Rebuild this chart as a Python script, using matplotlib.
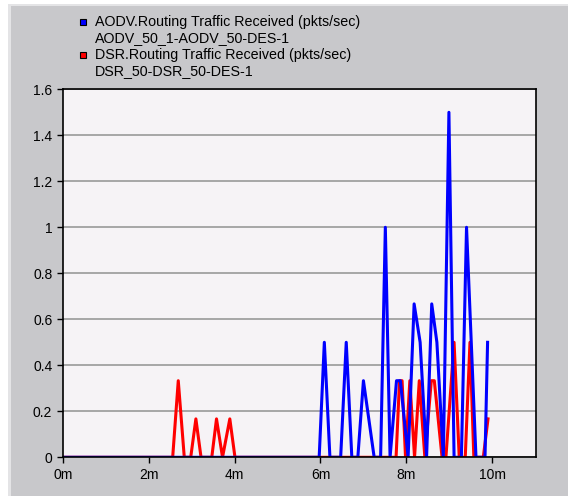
import matplotlib
matplotlib.use('Agg')
import matplotlib.pyplot as plt
from matplotlib.patches import Rectangle

plt.rcParams['font.family'] = ['Liberation Sans', 'DejaVu Sans']

# AODV routing traffic received (time in minutes, pkts/sec)
aodv_t = [0, 5.97, 6.09, 6.22, 6.47, 6.60, 6.73, 6.87, 7.00, 7.25, 7.40, 7.51,
          7.62, 7.77, 7.86, 8.04, 8.18, 8.32, 8.47, 8.59, 8.71, 8.86, 8.99,
          9.11, 9.28, 9.40, 9.62, 9.83, 9.89]
aodv_v = [0, 0, 0.5, 0, 0, 0.5, 0, 0, 0.333, 0, 0, 1.0,
          0, 0.333, 0.333, 0, 0.667, 0.5, 0, 0.667, 0.5, 0, 1.5,
          0, 0, 1.0, 0, 0, 0.5]

# DSR routing traffic received
dsr_t = [0, 2.56, 2.69, 2.83, 2.98, 3.10, 3.22, 3.47, 3.58, 3.72, 3.89, 4.01,
         7.76, 7.84, 7.90, 7.98, 8.08, 8.19, 8.30, 8.43, 8.58, 8.65, 8.83,
         8.92, 9.11, 9.23, 9.37, 9.48, 9.57, 9.79, 9.90]
dsr_v = [0, 0, 0.333, 0, 0, 0.167, 0, 0, 0.167, 0, 0.167, 0,
         0, 0.333, 0.333, 0, 0.333, 0, 0.333, 0, 0.333, 0.333, 0,
         0, 0.5, 0, 0, 0.5, 0, 0, 0.167]

legend_lines = ['AODV.Routing Traffic Received (pkts/sec)',
                'AODV_50_1-AODV_50-DES-1',
                'DSR.Routing Traffic Received (pkts/sec)',
                'DSR_50-DSR_50-DES-1']

x_ticks = [0, 2, 4, 6, 8, 10]
x_labels = ['0m', '2m', '4m', '6m', '8m', '10m']
y_ticks = [0, 0.2, 0.4, 0.6, 0.8, 1.0, 1.2, 1.4, 1.6]
y_labels = ['0', '0.2', '0.4', '0.6', '0.8', '1', '1.2', '1.4', '1.6']

W, H = 568, 496
fig = plt.figure(figsize=(W / 100, H / 100), dpi=100)
fig.patch.set_facecolor('white')

# grey panel with light edge like the original window
fig.add_artist(Rectangle((8 / W, 0), 1, 1 - 4 / H, transform=fig.transFigure,
                         facecolor='#e4e4e6', edgecolor='none', zorder=-2))
fig.add_artist(Rectangle((11 / W, 0), 1, 1 - 6 / H, transform=fig.transFigure,
                         facecolor='#c8c8cb', edgecolor='none', zorder=-1))

ax = fig.add_axes([62.7 / W, 1 - 457.3 / H, (535.7 - 62.7) / W, (457.3 - 89.3) / H])
ax.set_facecolor('#f6f3f6')

ax.plot(dsr_t, dsr_v, color='#ff0000', lw=2.2, solid_joinstyle='round')
ax.plot(aodv_t, aodv_v, color='#0000ff', lw=2.2, solid_joinstyle='round')

ax.set_xlim(0, 11.01)
ax.set_ylim(0, 1.6)
ax.set_xticks(x_ticks)
ax.set_xticklabels(x_labels)
ax.set_yticks(y_ticks)
ax.set_yticklabels(y_labels)
ax.tick_params(direction='out', length=4, width=1, labelsize=10, colors='black')
ax.yaxis.grid(True, color='#a0a0a0', linewidth=1.3)
ax.set_axisbelow(True)
for s in ax.spines.values():
    s.set_color('black')
    s.set_linewidth(1.2)

# legend drawn as text rows with colour squares
rows_y = [21.7, 38.3, 55, 71]
for i, txt in enumerate(legend_lines):
    fig.text(95 / W, 1 - rows_y[i] / H, txt, fontsize=10.3, va='center', ha='left')
for i, c in [(0, '#0000ff'), (2, '#ff0000')]:
    fig.add_artist(Rectangle((80 / W, 1 - (rows_y[i] + 3) / H), 6 / W, 6 / H,
                             transform=fig.transFigure, facecolor=c,
                             edgecolor='black', linewidth=0.8))

fig.savefig('out.png', dpi=100)
